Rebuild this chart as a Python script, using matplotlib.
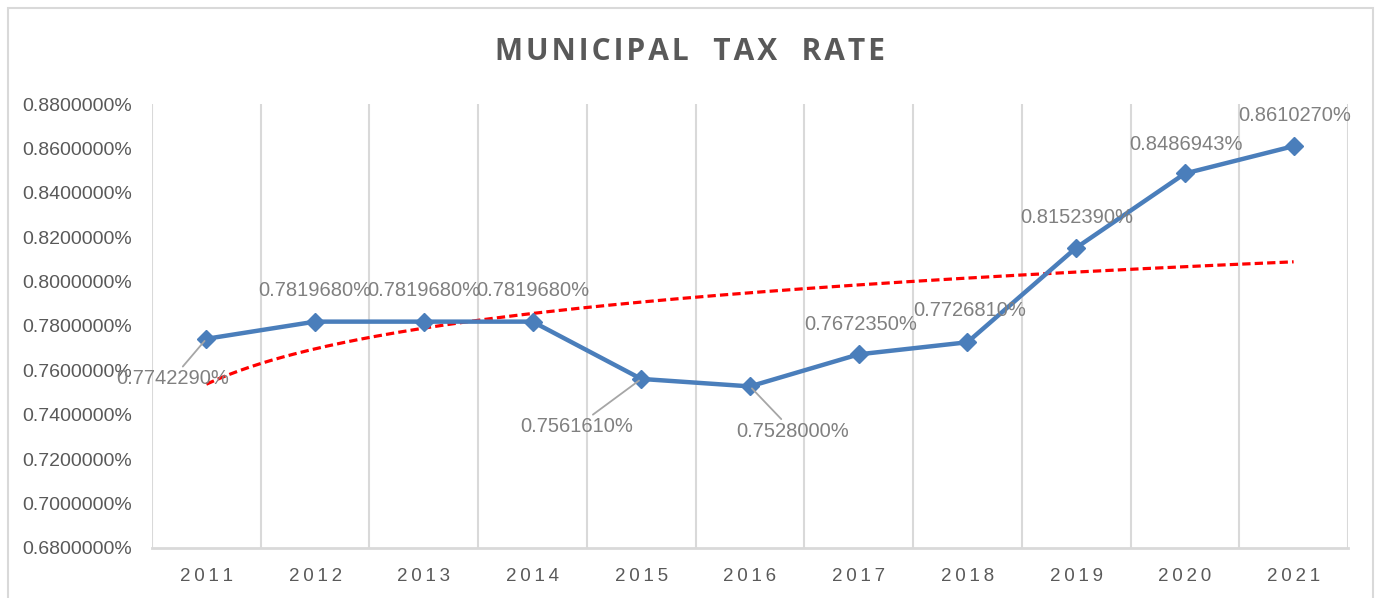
import matplotlib
matplotlib.use("Agg")
import matplotlib.pyplot as plt
from matplotlib.patches import Rectangle
import numpy as np

plt.rcParams["font.family"] = ["Liberation Sans", "DejaVu Sans"]

years = ["2011", "2012", "2013", "2014", "2015", "2016", "2017", "2018", "2019", "2020", "2021"]
tax_rate = [0.774229, 0.781968, 0.781968, 0.781968, 0.756161, 0.7528,
            0.767235, 0.772681, 0.815239, 0.8486943, 0.861027]
y_ticks = [0.68, 0.70, 0.72, 0.74, 0.76, 0.78, 0.80, 0.82, 0.84, 0.86, 0.88]

# label offsets in pixels (dx, dy) relative to each point
label_offsets = [(-34, -40), (0, 31), (0, 31), (0, 31), (-65, -48), (43, -45),
                 (2, 30), (2, 32), (1, 30), (1, 29), (1, 31)]
leader = [True, False, False, False, True, True, False, False, False, False, False]

LINE_BLUE = "#4a7ebb"
GRID = "#d9d9d9"
TICK_GRAY = "#595959"
LABEL_GRAY = "#808080"

W, H = 1376, 598
fig = plt.figure(figsize=(W / 100, H / 100), dpi=100)
ax = fig.add_axes([152 / W, 1 - 548 / H, (1348 - 152) / W, (548 - 104) / H])

x = np.arange(len(years))

# vertical gridlines at category boundaries
for b in np.arange(-0.5, len(years), 1.0):
    ax.axvline(b, color=GRID, lw=1.5, zorder=0)

ax.plot(x, tax_rate, color=LINE_BLUE, lw=3.2, marker="D", ms=9,
        markeredgecolor=LINE_BLUE, zorder=4)

# logarithmic trendline
xs = np.arange(1, len(years) + 1)
b_coef, a_coef = np.polyfit(np.log(xs), tax_rate, 1)
xt = np.linspace(1, len(years), 200)
ax.plot(xt - 1, a_coef + b_coef * np.log(xt), color="#ff0000", lw=2.3,
        linestyle=(0, (2.6, 1.3)), zorder=3)

for i, v in enumerate(tax_rate):
    dx, dy = label_offsets[i]
    props = None
    if leader[i]:
        props = dict(arrowstyle="-", color="#a6a6a6", lw=1.3, shrinkA=0, shrinkB=2)
    ax.annotate(f"{v:.7f}%", xy=(i, v), xytext=(dx, dy), textcoords="offset pixels",
                ha="center", va="center", fontsize=14.5, color=LABEL_GRAY,
                arrowprops=props, zorder=5)

ax.set_xlim(-0.5, len(years) - 0.5)
ax.set_ylim(0.68, 0.88)
ax.set_yticks(y_ticks)
ax.set_yticklabels([f"{t:.7f}%" for t in y_ticks])
ax.set_xticks(x)
ax.set_xticklabels(["\u2009".join(y) for y in years])
ax.tick_params(axis="y", length=0, pad=14.5, labelsize=14, labelcolor=TICK_GRAY)
ax.tick_params(axis="x", length=0, pad=14.5, labelsize=13.5, labelcolor=TICK_GRAY)
for s in ("top", "right", "left"):
    ax.spines[s].set_visible(False)
ax.spines["bottom"].set_color(GRID)
ax.spines["bottom"].set_linewidth(2)

title = "\u200a".join("MUNICIPAL  TAX  RATE")
fig.text(690 / W, 1 - 52 / H, title, ha="center", va="center", fontsize=21.5,
         fontweight="bold", color=TICK_GRAY, family=["Open Sans", "DejaVu Sans"])

fig.patches.append(Rectangle((8 / W, -0.05), (1373 - 8) / W, (598 - 8) / H + 0.05,
                             transform=fig.transFigure, fill=False, ec=GRID, lw=1.5))

fig.savefig("out.png", dpi=100)
